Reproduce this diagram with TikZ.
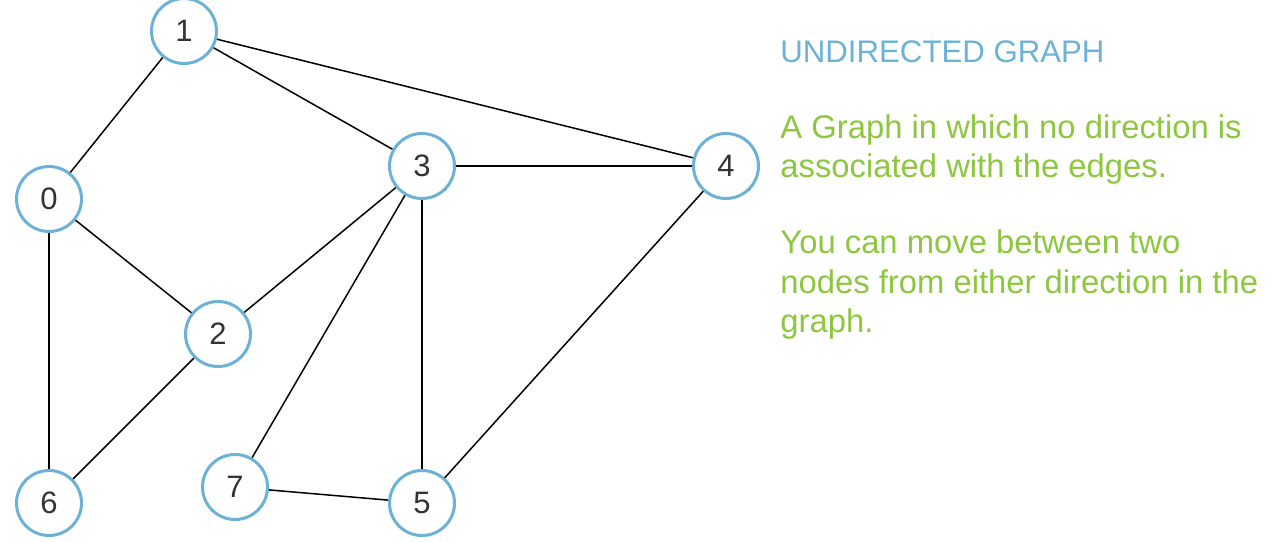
\documentclass[tikz,border=0pt]{standalone}
\usepackage{fontspec}
\setmainfont{Liberation Sans}
\usepackage{tikz}
\usetikzlibrary{%
	arrows,
	shapes,
	positioning,% wg. " of "
	calc
}
\definecolor{vblue}{RGB}{107,178,214}
\definecolor{tgreen}{RGB}{141,198,63}
\definecolor{dgray}{RGB}{51,51,51}
\tikzstyle{vertex}=[circle, minimum size=32.5pt, inner sep=0pt, line width = 1.5pt, draw = vblue, text = dgray, font=\fontsize{15.5}{18}\selectfont]
\tikzstyle{edge} = [draw, line width=0.75pt, black]
\tikzstyle{title} = [anchor=base west, inner sep=0pt, text = vblue, font=\fontsize{15.6}{18}\selectfont]
\tikzstyle{desc} = [anchor=base west, inner sep=0pt, text = tgreen, font=\fontsize{16.4}{19}\selectfont]

\begin{document}
\begin{tikzpicture}[x=0.5pt,y=-0.5pt]
	\useasboundingbox (0,0) rectangle (1280,541);
	
	% First we draw the vertices
	\foreach \pos/\name in {{(184,31)/1}, {(49,199)/0}, {(422,166)/3}, {(726,166)/4},
		{(218,334)/2}, {(235,487)/7}, {(422,503)/5}, {(49,503)/6}}
	\node[vertex] (\name) at \pos {\name};
	
	% Connect vertices with edges
	\foreach \source/ \dest in {
		1/0, 1/3, 1/4, 0/2, 0/6, 3/4, 3/2, 3/7, 3/5, 2/6, 7/5, 4/5}
	\path[edge] (\source) -- (\dest);
	
	% Heading and text
	\node[title] (head) at (780,62) {UNDIRECTED GRAPH};
	
	\foreach \y/\txt in {
		138/{A Graph in which no direction is},
		177/{associated with the edges.},
		253/{You can move between two},
		293/{nodes from either direction in the},
		332/{graph.}}
	\node[desc] (line\y) at (780,\y) {\txt};
	
\end{tikzpicture}
\end{document}
